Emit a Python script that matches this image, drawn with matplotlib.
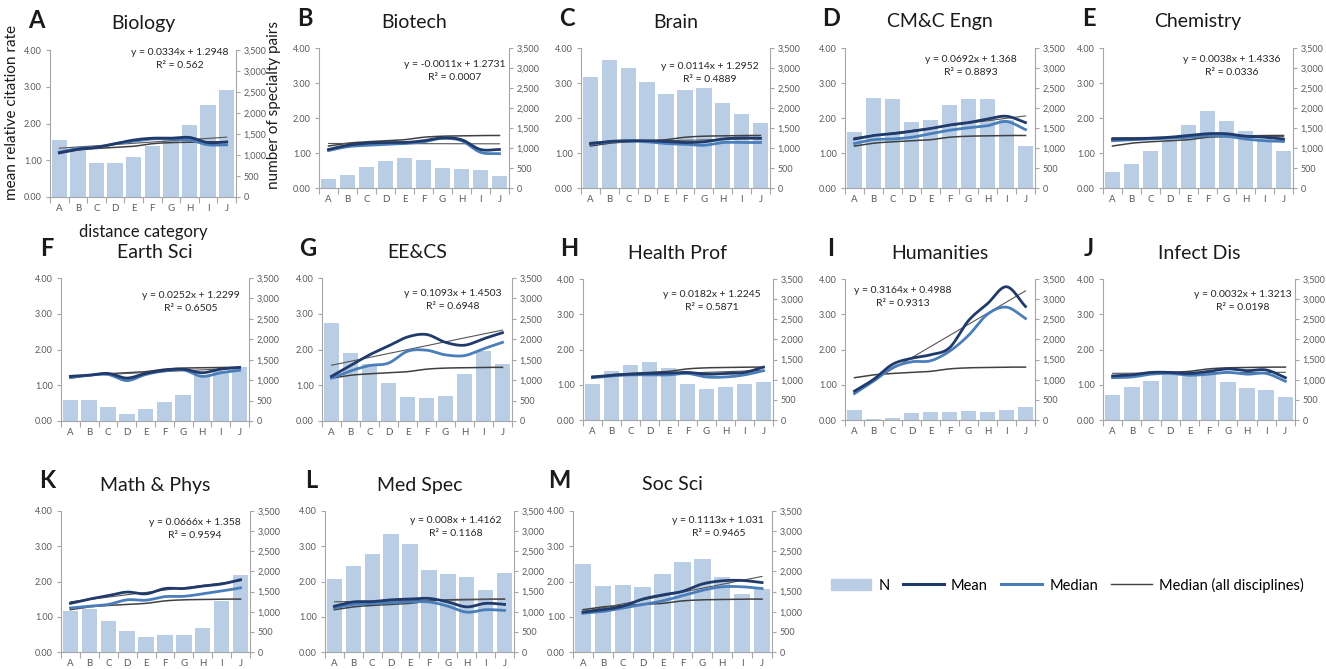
import matplotlib.pyplot as plt
import numpy as np
from matplotlib.ticker import FuncFormatter
from matplotlib.patches import Patch
from matplotlib.lines import Line2D

plt.rcParams['font.family'] = ['Lato', 'DejaVu Sans']

categories = ["A", "B", "C", "D", "E", "F", "G", "H", "I", "J"]

# median over all disciplines, same in every panel
median_all = [1.20, 1.28, 1.32, 1.35, 1.38, 1.45, 1.48, 1.49, 1.50, 1.50]

biology_n = [1356, 1140, 805, 805, 963, 1208, 1400, 1706, 2188, 2555]
biology_mean = [1.20, 1.30, 1.35, 1.45, 1.55, 1.60, 1.60, 1.62, 1.48, 1.50]
biology_median = [1.22, 1.32, 1.35, 1.45, 1.52, 1.58, 1.58, 1.55, 1.42, 1.42]

biotech_n = [230, 330, 535, 675, 760, 710, 510, 470, 455, 290]
biotech_mean = [1.10, 1.22, 1.28, 1.30, 1.30, 1.35, 1.43, 1.38, 1.10, 1.10]
biotech_median = [1.07, 1.18, 1.22, 1.25, 1.27, 1.32, 1.42, 1.35, 1.02, 0.98]

brain_n = [2774, 3194, 2993, 2651, 2345, 2450, 2494, 2126, 1855, 1636]
brain_mean = [1.27, 1.33, 1.35, 1.35, 1.33, 1.30, 1.32, 1.40, 1.43, 1.42]
brain_median = [1.25, 1.32, 1.34, 1.32, 1.27, 1.25, 1.22, 1.30, 1.30, 1.30]

cmce_n = [1400, 2249, 2214, 1645, 1706, 2074, 2214, 2214, 1706, 1050]
cmce_mean = [1.40, 1.50, 1.55, 1.62, 1.70, 1.80, 1.87, 1.97, 2.05, 1.87]
cmce_median = [1.27, 1.38, 1.40, 1.45, 1.55, 1.65, 1.72, 1.78, 1.90, 1.67]

chem_n = [394, 595, 936, 1181, 1575, 1925, 1663, 1418, 1225, 919]
chem_mean = [1.40, 1.40, 1.42, 1.45, 1.50, 1.55, 1.55, 1.48, 1.45, 1.40]
chem_median = [1.35, 1.38, 1.40, 1.42, 1.45, 1.50, 1.48, 1.40, 1.35, 1.33]

earth_n = [508, 525, 350, 175, 289, 464, 630, 1138, 1225, 1313]
earth_mean = [1.25, 1.28, 1.33, 1.20, 1.33, 1.42, 1.45, 1.35, 1.45, 1.50]
earth_median = [1.22, 1.28, 1.30, 1.13, 1.30, 1.40, 1.43, 1.25, 1.35, 1.42]

eecs_n = [2406, 1663, 1400, 919, 586, 569, 613, 1155, 1706, 1400]
eecs_mean = [1.25, 1.55, 1.85, 2.10, 2.35, 2.42, 2.20, 2.12, 2.30, 2.47]
eecs_median = [1.20, 1.40, 1.55, 1.62, 1.95, 1.98, 1.85, 1.83, 2.02, 2.20]

health_n = [893, 1225, 1356, 1444, 1295, 893, 770, 831, 893, 936]
health_mean = [1.22, 1.27, 1.30, 1.32, 1.33, 1.35, 1.30, 1.32, 1.35, 1.50]
health_median = [1.20, 1.25, 1.28, 1.28, 1.28, 1.32, 1.22, 1.22, 1.28, 1.40]

human_n = [245, 35, 53, 175, 201, 201, 228, 193, 245, 333]
human_mean = [0.82, 1.15, 1.58, 1.75, 1.85, 2.05, 2.82, 3.30, 3.78, 3.22]
human_median = [0.75, 1.10, 1.48, 1.65, 1.68, 1.95, 2.40, 3.00, 3.20, 2.88]

infect_n = [630, 831, 980, 1120, 1225, 1164, 945, 788, 744, 569]
infect_mean = [1.25, 1.28, 1.35, 1.35, 1.32, 1.38, 1.45, 1.40, 1.42, 1.20]
infect_median = [1.20, 1.22, 1.30, 1.32, 1.27, 1.30, 1.35, 1.30, 1.32, 1.10]

mathphys_n = [1024, 1068, 770, 525, 368, 411, 420, 595, 1269, 1908]
mathphys_mean = [1.38, 1.50, 1.60, 1.70, 1.65, 1.80, 1.80, 1.87, 1.93, 2.05]
mathphys_median = [1.25, 1.30, 1.35, 1.48, 1.47, 1.57, 1.58, 1.65, 1.73, 1.82]

medspec_n = [1811, 2126, 2433, 2931, 2669, 2039, 1943, 1864, 1531, 1969]
medspec_mean = [1.30, 1.42, 1.43, 1.48, 1.50, 1.52, 1.42, 1.28, 1.38, 1.35]
medspec_median = [1.25, 1.35, 1.37, 1.40, 1.42, 1.42, 1.30, 1.13, 1.20, 1.18]

socsci_n = [2188, 1645, 1663, 1619, 1925, 2231, 2319, 1855, 1444, 1575]
socsci_mean = [1.13, 1.20, 1.30, 1.50, 1.62, 1.72, 1.93, 2.02, 2.03, 1.97]
socsci_median = [1.10, 1.15, 1.25, 1.35, 1.45, 1.60, 1.75, 1.85, 1.85, 1.80]

titles = ["Biology", "Biotech", "Brain", "CM&C Engn", "Chemistry",
          "Earth Sci", "EE&CS", "Health Prof", "Humanities", "Infect Dis",
          "Math & Phys", "Med Spec", "Soc Sci"]
letters = list("ABCDEFGHIJKLM")
slopes = ["0.0334", "-0.0011", "0.0114", "0.0692", "0.0038", "0.0252", "0.1093",
          "0.0182", "0.3164", "0.0032", "0.0666", "0.008", "0.1113"]
intercepts = ["1.2948", "1.2731", "1.2952", "1.368", "1.4336", "1.2299", "1.4503",
              "1.2245", "0.4988", "1.3213", "1.358", "1.4162", "1.031"]
r_squared = ["0.562", "0.0007", "0.4889", "0.8893", "0.0336", "0.6505", "0.6948",
             "0.5871", "0.9313", "0.0198", "0.9594", "0.1168", "0.9465"]

n_series = [biology_n, biotech_n, brain_n, cmce_n, chem_n, earth_n, eecs_n,
            health_n, human_n, infect_n, mathphys_n, medspec_n, socsci_n]
mean_series = [biology_mean, biotech_mean, brain_mean, cmce_mean, chem_mean,
               earth_mean, eecs_mean, health_mean, human_mean, infect_mean,
               mathphys_mean, medspec_mean, socsci_mean]
median_series = [biology_median, biotech_median, brain_median, cmce_median,
                 chem_median, earth_median, eecs_median, health_median,
                 human_median, infect_median, mathphys_median, medspec_median,
                 socsci_median]

# panel boxes in pixels: left, right, top, bottom
boxes = [(50, 236, 50, 197), (319, 509, 48, 188), (581, 770, 48, 188),
         (845, 1035, 48, 188), (1103, 1293, 48, 188),
         (61, 249, 278, 421), (322, 512, 278, 421), (583, 773, 279, 420),
         (845, 1035, 279, 420), (1103, 1295, 279, 420),
         (61, 250, 511, 652), (325, 514, 511, 652), (573, 772, 511, 652)]
# where the trendline equation sits (axes fraction)
eq_pos = [(0.70, 0.985), (0.716, 0.88), (0.68, 0.865), (0.66, 0.92), (0.68, 0.92),
          (0.69, 0.875), (0.69, 0.89), (0.68, 0.89), (0.305, 0.915), (0.73, 0.89),
          (0.71, 0.92), (0.69, 0.936), (0.73, 0.936)]

W, H = 1326, 669
bar_color = "#b9cde5"
mean_color = "#1f3a6b"
median_color = "#4a7ebb"
grey = "#404040"
axis_grey = "#a6a6a6"
tick_grey = "#595959"


def smooth(ys, steps=20):
    # Catmull-Rom curve through the points, like a smoothed Excel line
    y = np.asarray(ys, float)
    p = np.concatenate([[2 * y[0] - y[1]], y, [2 * y[-1] - y[-2]]])
    t = np.linspace(0, 1, steps, endpoint=False)
    xs, out = [], []
    for i in range(len(y) - 1):
        p0, p1, p2, p3 = p[i:i + 4]
        seg = 0.5 * (2 * p1 + (-p0 + p2) * t + (2 * p0 - 5 * p1 + 4 * p2 - p3) * t ** 2
                     + (-p0 + 3 * p1 - 3 * p2 + p3) * t ** 3)
        xs.extend(i + t)
        out.extend(seg)
    xs.append(len(y) - 1)
    out.append(y[-1])
    return np.array(xs), np.array(out)


fig = plt.figure(figsize=(W / 100, H / 100), dpi=100)

x = np.arange(len(categories))
for k in range(13):
    l, r, t, b = boxes[k]
    ax = fig.add_axes([l / W, 1 - b / H, (r - l) / W, (b - t) / H])
    ax.bar(x, n_series[k], width=0.82, color=bar_color, zorder=1)
    ax.set_xlim(-0.5, 9.5)
    ax.set_ylim(0, 3500)
    ax2 = ax.twinx()

    # N on the right-hand axis, rates on the left-hand one
    ax.yaxis.tick_right()
    ax.set_yticks(range(0, 3501, 500))
    ax.yaxis.set_major_formatter(FuncFormatter(lambda v, p: f"{int(v):,}"))
    ax.set_xticks(x)
    ax.set_xticklabels(categories)
    ax.set_xticks(np.arange(-0.5, 10, 1), minor=True)
    ax.tick_params(axis="x", which="major", length=0, labelsize=7, colors=tick_grey, pad=5)
    ax.tick_params(axis="x", which="minor", length=4, color=axis_grey, width=0.8)
    ax.tick_params(axis="y", length=3, labelsize=6.5, colors=tick_grey, pad=2.5)
    ax.tick_params(axis="y", color=axis_grey)
    for s in ["top", "left"]:
        ax.spines[s].set_visible(False)
    for s in ["bottom", "right"]:
        ax.spines[s].set_color(axis_grey)
        ax.spines[s].set_linewidth(0.8)

    ax2.set_ylim(0, 4)
    ax2.yaxis.tick_left()
    ax2.set_yticks([0, 1, 2, 3, 4])
    ax2.yaxis.set_major_formatter(FuncFormatter(lambda v, p: f"{v:.2f}"))
    ax2.tick_params(axis="y", length=3, labelsize=6.5, colors=tick_grey, pad=3)
    ax2.tick_params(axis="y", color=axis_grey)
    for s in ["top", "right", "bottom"]:
        ax2.spines[s].set_visible(False)
    ax2.spines["left"].set_color(axis_grey)
    ax2.spines["left"].set_linewidth(0.8)

    sx, sy = smooth(median_all)
    ax2.plot(sx, sy, color=grey, lw=1.1)
    slope, icpt = float(slopes[k]), float(intercepts[k])
    ax2.plot([0, 9], [slope * 1 + icpt, slope * 10 + icpt], color="#555555", lw=0.8)
    sx, sy = smooth(median_series[k])
    ax2.plot(sx, sy, color=median_color, lw=2.0)
    sx, sy = smooth(mean_series[k])
    ax2.plot(sx, sy, color=mean_color, lw=2.0)

    ex, ey = eq_pos[k]
    ax2.text(ex, ey, f"y = {slopes[k]}x + {intercepts[k]}", transform=ax2.transAxes,
             ha="center", va="center", fontsize=7.5, color="#262626")
    ax2.text(ex, ey - 13 / (b - t), f"R² = {r_squared[k]}", transform=ax2.transAxes,
             ha="center", va="center", fontsize=7.5, color="#262626")

    cx = (l + r) / 2
    fig.text(cx / W, 1 - (t - 26) / H, titles[k], ha="center", va="center",
             fontsize=14, color="#1a1a1a")
    fig.text((l - 14) / W, 1 - (t - 30) / H, letters[k], ha="center", va="center",
             fontsize=17, fontweight="bold", color="#1a1a1a")

fig.text(12 / W, 1 - 112 / H, "mean relative citation rate", rotation=90,
         ha="center", va="center", fontsize=11, color="#1a1a1a")
fig.text(274 / W, 1 - 105 / H, "number of specialty pairs", rotation=90,
         ha="center", va="center", fontsize=11, color="#1a1a1a")
fig.text(143 / W, 1 - 232 / H, "distance category", ha="center", va="center",
         fontsize=12, color="#1a1a1a")

handles = [Patch(color=bar_color), Line2D([], [], color=mean_color, lw=2.2),
           Line2D([], [], color=median_color, lw=2.2), Line2D([], [], color=grey, lw=1)]
fig.legend(handles, ["N", "Mean", "Median", "Median (all disciplines)"],
           loc="center right", bbox_to_anchor=(1304 / W, 1 - 585 / H), ncol=4,
           frameon=False, fontsize=10.5, handlelength=2.8, columnspacing=0.9,
           handletextpad=0.5, borderpad=0, borderaxespad=0)

fig.savefig("out.png", dpi=100)
